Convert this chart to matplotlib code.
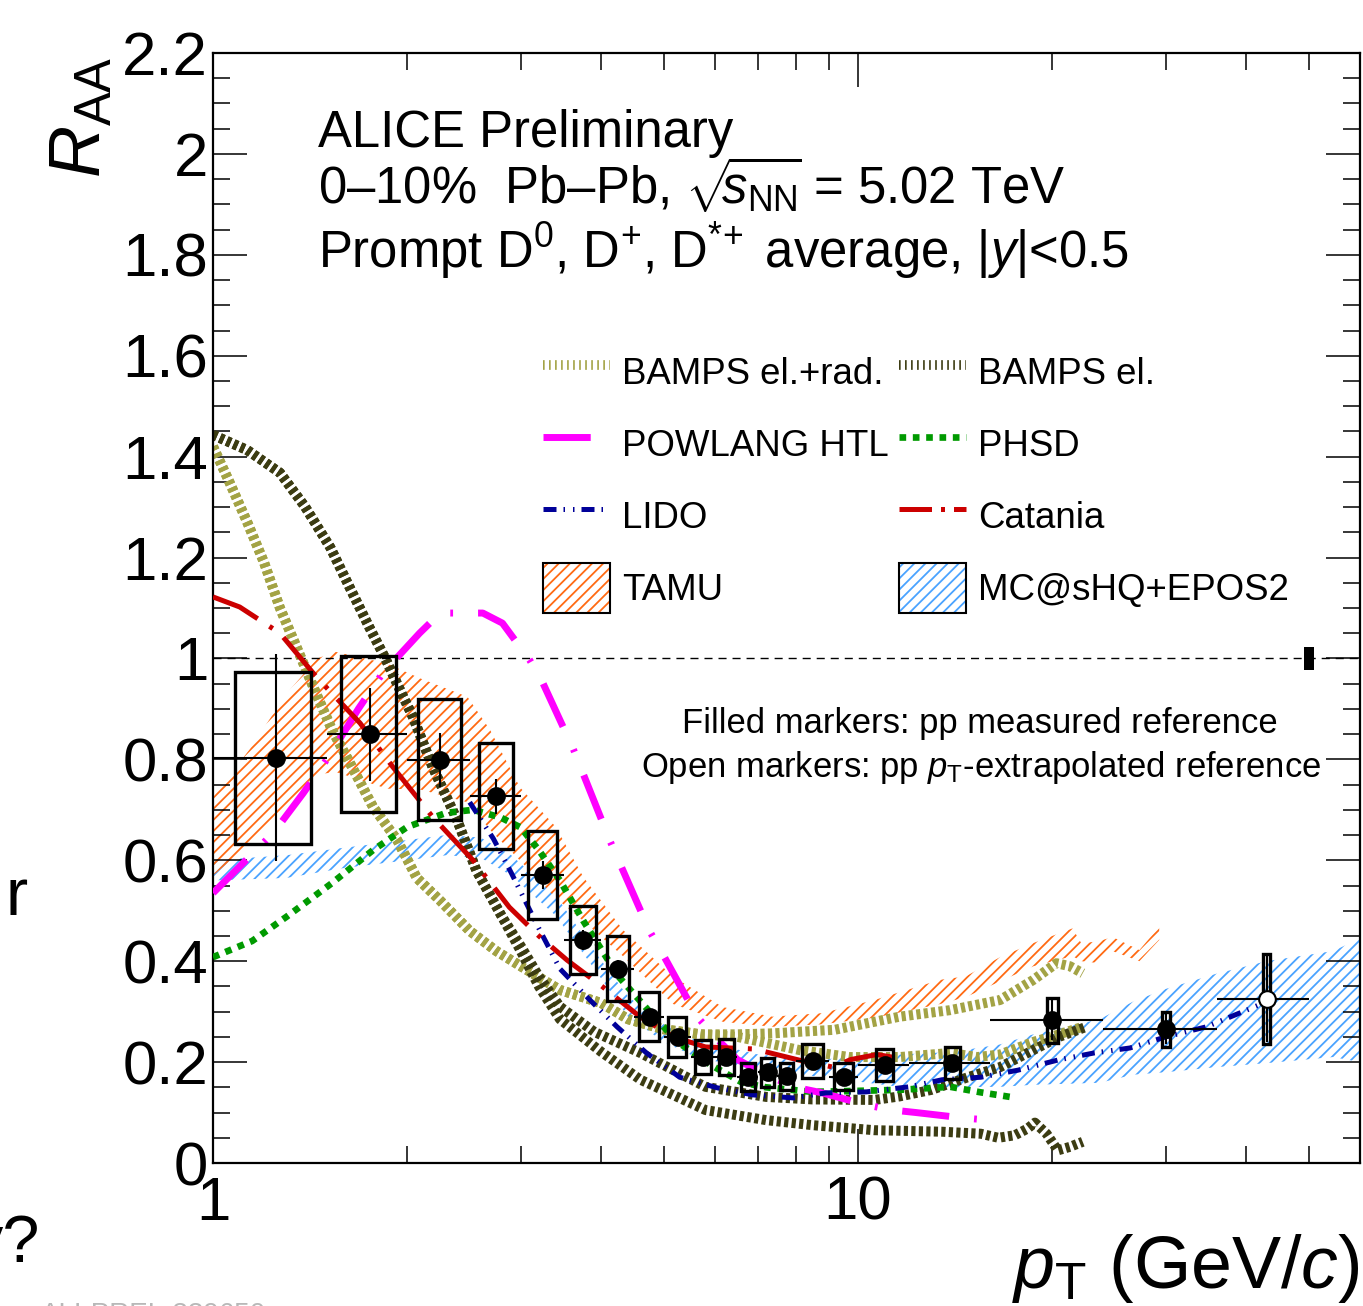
import numpy as np
import matplotlib
matplotlib.use("Agg")
import matplotlib.pyplot as plt
from matplotlib.lines import Line2D
from matplotlib.patches import Patch, Rectangle
from matplotlib.ticker import FixedLocator, FuncFormatter, MultipleLocator, NullFormatter

plt.rcParams['font.family'] = ['Liberation Sans', 'DejaVu Sans']
plt.rcParams['mathtext.fontset'] = 'custom'
plt.rcParams['mathtext.rm'] = 'Liberation Sans'
plt.rcParams['mathtext.it'] = 'Liberation Sans:italic'
plt.rcParams['mathtext.bf'] = 'Liberation Sans:bold'
plt.rcParams['hatch.linewidth'] = 1.3

# ---- prompt D average R_AA, 0-10% Pb-Pb 5.02 TeV ----
pt_lo = [1, 1.5, 2, 2.5, 3, 3.5, 4, 4.5, 5, 5.5, 6, 6.5, 7, 7.5, 8, 9, 10, 12, 16, 24, 36]
pt_hi = [1.5, 2, 2.5, 3, 3.5, 4, 4.5, 5, 5.5, 6, 6.5, 7, 7.5, 8, 9, 10, 12, 16, 24, 36, 50]
raa = [0.803, 0.850, 0.799, 0.727, 0.571, 0.442, 0.385, 0.290, 0.250, 0.210, 0.210,
       0.171, 0.180, 0.172, 0.202, 0.171, 0.194, 0.198, 0.283, 0.265, 0.325]
raa_stat = [0.205, 0.092, 0.053, 0.035, 0.027, 0.02, 0.018, 0.015, 0.014, 0.012, 0.012,
            0.011, 0.011, 0.011, 0.012, 0.011, 0.013, 0.014, 0.04, 0.03, 0.085]
raa_syst = [0.17, 0.155, 0.12, 0.105, 0.088, 0.068, 0.064, 0.048, 0.039, 0.033, 0.035,
            0.028, 0.029, 0.027, 0.033, 0.027, 0.031, 0.032, 0.045, 0.035, 0.09]
syst_dx = [0.17] * 14 + [0.32, 0.32, 0.33, 0.375, 0.4, 0.43, 0.53]
extrapolated_ref = [False] * 20 + [True]
norm_unc = 0.022

# ---- model curves ----
bamps_rad_up_pt = [1.0, 1.06, 1.13, 1.20, 1.27, 1.35, 1.43, 1.53, 1.63, 1.77, 1.93, 2.07, 2.25,
                   2.5, 2.75, 3.0, 3.45, 4.0, 4.4, 5.0, 5.7, 6.5, 7.4, 8.1, 9.2, 9.7, 11.6,
                   13.9, 16.6, 18.7, 20.3, 21.3, 22.3]
bamps_rad_up = [1.42, 1.35, 1.27, 1.19, 1.10, 1.02, 0.944, 0.858, 0.793, 0.706, 0.64, 0.565, 0.52,
                0.46, 0.42, 0.39, 0.343, 0.317, 0.285, 0.265, 0.255, 0.255, 0.257, 0.26, 0.264,
                0.27, 0.29, 0.303, 0.323, 0.363, 0.396, 0.39, 0.376]
bamps_rad_lo_pt = [1.0, 1.06, 1.13, 1.20, 1.27, 1.35, 1.43, 1.53, 1.63, 1.77, 1.93, 2.07, 2.25,
                   2.5, 2.75, 3.0, 3.45, 4.0, 4.4, 5.0, 5.7, 6.5, 7.4, 8.1, 9.7, 11.6, 13.9,
                   15.3, 16.6, 18.7, 20.5, 22.3]
bamps_rad_lo = [1.42, 1.35, 1.27, 1.19, 1.10, 1.02, 0.944, 0.858, 0.793, 0.706, 0.64, 0.565, 0.52,
                0.46, 0.42, 0.39, 0.343, 0.317, 0.285, 0.265, 0.255, 0.25, 0.235, 0.224, 0.21,
                0.21, 0.218, 0.21, 0.215, 0.24, 0.255, 0.27]

bamps_el_up_pt = [1.0, 1.13, 1.27, 1.39, 1.52, 1.63, 1.75, 1.85, 1.97, 2.04, 2.19, 2.39, 2.56,
                  2.8, 3.0, 3.2, 3.45, 3.9, 4.6, 5.8, 7.2, 8.5, 10.6, 11.6, 13.0, 14.8, 16.6,
                  18.7, 20.5, 22.6]
bamps_el_up = [1.443, 1.413, 1.368, 1.30, 1.22, 1.14, 1.06, 1.0, 0.925, 0.885, 0.785, 0.68, 0.58,
               0.49, 0.43, 0.37, 0.31, 0.26, 0.218, 0.151, 0.131, 0.126, 0.125, 0.132, 0.145,
               0.17, 0.19, 0.224, 0.25, 0.27]
bamps_el_lo_pt = [1.0, 1.13, 1.27, 1.39, 1.52, 1.63, 1.75, 1.85, 1.97, 2.04, 2.19, 2.39, 2.56,
                  2.8, 3.0, 3.2, 3.45, 4.0, 4.6, 5.8, 7.2, 8.5, 10.6, 13.5, 15.5, 16.5, 17.5,
                  18.3, 18.8, 19.6, 20.4, 21.3, 22.3]
bamps_el_lo = [1.443, 1.413, 1.368, 1.30, 1.22, 1.14, 1.06, 1.0, 0.925, 0.885, 0.785, 0.68, 0.58,
               0.49, 0.42, 0.35, 0.285, 0.22, 0.165, 0.105, 0.085, 0.075, 0.065, 0.062, 0.058,
               0.05, 0.055, 0.068, 0.08, 0.058, 0.025, 0.032, 0.042]

powlang_pt = [1.0, 1.24, 1.38, 1.52, 1.68, 1.83, 2.09, 2.25, 2.62, 2.81, 3.1, 3.25, 3.62, 4.12,
              4.75, 5.0, 5.63, 6.0, 6.5, 7.2, 8.0, 8.8, 10.3, 11.3, 12.3, 14.6, 16.0]
powlang = [0.535, 0.654, 0.733, 0.81, 0.90, 0.97, 1.05, 1.09, 1.09, 1.07, 0.996, 0.95, 0.82,
           0.64, 0.46, 0.41, 0.29, 0.25, 0.205, 0.175, 0.15, 0.139, 0.115, 0.105, 0.10, 0.089,
           0.085]

phsd_pt = [1.0, 1.15, 1.30, 1.53, 1.77, 2.0, 2.3, 2.53, 2.79, 3.0, 3.2, 3.45, 3.75, 4.25, 4.75,
           5.25, 5.9, 6.6, 7.2, 8.5, 10.0, 11.6, 13.9, 15.5, 17.2]
phsd = [0.408, 0.44, 0.488, 0.555, 0.62, 0.666, 0.694, 0.70, 0.685, 0.665, 0.62, 0.56, 0.48,
        0.37, 0.30, 0.24, 0.195, 0.16, 0.15, 0.141, 0.143, 0.145, 0.151, 0.14, 0.131]

lido_pt = [2.5, 2.72, 2.9, 3.2, 3.45, 3.84, 4.23, 4.7, 5.29, 6.05, 6.87, 7.93, 8.92, 10.3, 12.0,
           13.5, 15.5, 17.7, 20.4, 23.2, 26.4, 30.0, 34.7, 39.0, 44.0]
lido = [0.715, 0.643, 0.575, 0.465, 0.385, 0.323, 0.27, 0.218, 0.17, 0.149, 0.135, 0.129, 0.139,
        0.141, 0.151, 0.165, 0.17, 0.184, 0.204, 0.218, 0.228, 0.25, 0.27, 0.297, 0.325]

catania_pt = [1.0, 1.1, 1.27, 1.43, 1.5, 1.69, 1.9, 2.19, 2.53, 2.88, 3.2, 3.54, 4.02, 4.59, 5.17,
              5.8, 6.9, 8.1, 9.15, 9.74, 10.7, 11.9]
catania = [1.122, 1.102, 1.05, 0.971, 0.942, 0.872, 0.785, 0.686, 0.60, 0.507, 0.45, 0.402, 0.349,
           0.29, 0.25, 0.23, 0.226, 0.204, 0.19, 0.205, 0.215, 0.205]

tamu_pt = [1.0, 1.14, 1.3, 1.45, 1.55, 1.86, 2.1, 2.48, 2.69, 2.99, 3.4, 3.75, 4.32, 5.17, 6.17,
           7.37, 8.8, 10.6, 13.4, 14.7, 16.6, 18.7, 21.5, 22.2, 23.7, 24.8, 27.3, 29.3]
tamu_hi = [0.725, 0.82, 0.93, 1.0, 1.013, 0.99, 0.96, 0.924, 0.858, 0.745, 0.666, 0.567, 0.462,
           0.369, 0.309, 0.29, 0.297, 0.323, 0.363, 0.37, 0.408, 0.436, 0.465, 0.435, 0.44,
           0.448, 0.422, 0.468]
tamu_lo = [0.57, 0.63, 0.70, 0.77, 0.775, 0.742, 0.74, 0.715, 0.66, 0.60, 0.525, 0.48, 0.41,
           0.315, 0.28, 0.27, 0.275, 0.288, 0.315, 0.329, 0.36, 0.39, 0.41, 0.40, 0.396, 0.42,
           0.40, 0.442]

mcshq_pt = [1.0, 1.3, 1.6, 2.0, 2.3, 2.6, 2.9, 3.4, 3.9, 4.4, 5.0, 5.6, 7.0, 8.7, 11.6, 14.0, 16.6,
            18.7, 23.7, 26.7, 30.0, 35.9, 43.0, 54.5, 60.0]
mcshq_hi = [0.60, 0.61, 0.625, 0.64, 0.65, 0.645, 0.61, 0.53, 0.42, 0.33, 0.275, 0.245, 0.215,
            0.205, 0.215, 0.22, 0.235, 0.255, 0.285, 0.32, 0.345, 0.375, 0.40, 0.42, 0.445]
mcshq_lo = [0.56, 0.565, 0.585, 0.60, 0.61, 0.605, 0.57, 0.49, 0.385, 0.29, 0.24, 0.21, 0.184,
            0.171, 0.151, 0.15, 0.151, 0.155, 0.159, 0.175, 0.18, 0.19, 0.198, 0.21, 0.2]

c_rad = '#a3a345'
c_el = '#3c3c12'
c_powlang = '#ff00ff'
c_phsd = '#009a00'
c_lido = '#000099'
c_catania = '#cc0000'
c_tamu = '#ff6a13'
c_mcshq = '#4aa3ff'

ls_bamps = (0, (0.42, 0.33))
ls_powlang = (0, (6.8, 3.6, 0.4, 3.6))
ls_phsd = (0, (1, 1))
ls_lido = (0, (2.6, 1.4, 0.3, 1.6, 0.3, 1.4))
ls_catania = (0, (10, 2.8, 0.8, 2.8))

fig = plt.figure(figsize=(13.63, 13.06), dpi=100)
ax = fig.add_axes([213 / 1363, 143 / 1306, 1147 / 1363, 1110 / 1306])

# hatched model bands
ax.fill(np.r_[mcshq_pt, mcshq_pt[::-1]], np.r_[mcshq_hi, mcshq_lo[::-1]],
        facecolor='none', edgecolor=c_mcshq, lw=0, hatch='///', zorder=1)
ax.fill(np.r_[tamu_pt, tamu_pt[::-1]], np.r_[tamu_hi, tamu_lo[::-1]],
        facecolor='none', edgecolor=c_tamu, lw=0, hatch='///', zorder=1)

# model curves
ax.plot(bamps_rad_up_pt, bamps_rad_up, color=c_rad, lw=7.2, ls=ls_bamps, zorder=2)
ax.plot(bamps_rad_lo_pt, bamps_rad_lo, color=c_rad, lw=7.2, ls=ls_bamps, zorder=2)
ax.plot(bamps_el_up_pt, bamps_el_up, color=c_el, lw=7.2, ls=ls_bamps, zorder=2)
ax.plot(bamps_el_lo_pt, bamps_el_lo, color=c_el, lw=7.2, ls=ls_bamps, zorder=2)
ax.plot(phsd_pt, phsd, color=c_phsd, lw=4.8, ls=ls_phsd, zorder=3)
ax.plot(powlang_pt, powlang, color=c_powlang, lw=5, ls=ls_powlang, zorder=3)
ax.plot(lido_pt, lido, color=c_lido, lw=3.6, ls=ls_lido, zorder=3)
ax.plot(catania_pt, catania, color=c_catania, lw=3.6, ls=ls_catania, zorder=3)

ax.axhline(1, color='k', lw=1, ls=(0, (5.8, 4.3)), zorder=2)

# data: syst boxes, stat bars, markers
pt_lo_a = np.array(pt_lo)
pt_hi_a = np.array(pt_hi)
pt_c = 0.5 * (pt_lo_a + pt_hi_a)
raa_a = np.array(raa)
for x, y, dx, s in zip(pt_c, raa_a, syst_dx, raa_syst):
    ax.add_patch(Rectangle((x - dx, y - s), 2 * dx, 2 * s, fill=False,
                           ec='k', lw=2.4, zorder=4))
for x, xl, xh, y, e, op in zip(pt_c, pt_lo_a, pt_hi_a, raa_a, raa_stat, extrapolated_ref):
    ax.errorbar([x], [y], xerr=[[x - xl], [xh - x]], yerr=[e], fmt='o', color='k',
                mfc='white' if op else 'k', mec='k', mew=1.5, ms=12,
                elinewidth=1.5, capsize=0, zorder=5)

# global normalisation uncertainty
ax.add_patch(Rectangle((49.1, 1 - norm_unc), 1.8, 2 * norm_unc, fc='k', ec='k', lw=0, zorder=5))

ax.set_xscale('log')
ax.set_xlim(1, 60)
ax.set_ylim(0, 2.2)
ax.xaxis.set_major_locator(FixedLocator([1, 10]))
ax.xaxis.set_major_formatter(FuncFormatter(lambda v, p: '%g' % v))
ax.xaxis.set_minor_locator(FixedLocator([2, 3, 4, 5, 6, 7, 8, 9, 20, 30, 40, 50]))
ax.xaxis.set_minor_formatter(NullFormatter())
ax.yaxis.set_major_locator(MultipleLocator(0.2))
ax.yaxis.set_minor_locator(MultipleLocator(0.05))
ax.yaxis.set_major_formatter(FuncFormatter(lambda v, p: '%g' % round(v, 2)))
ax.tick_params(which='both', direction='in', top=True, right=True, width=1.1, labelsize=44.5)
ax.tick_params(which='major', length=24.5)
ax.tick_params(which='minor', length=12.5)
ax.tick_params(axis='y', pad=3.5)
ax.tick_params(axis='x', pad=9)
for s in ax.spines.values():
    s.set_linewidth(1.6)

# legend
def band_handle(color):
    return (Patch(facecolor='none', edgecolor=color, lw=0, hatch='///'),
            Patch(facecolor='none', edgecolor='black', lw=1.5))

handles = [
    Line2D([], [], color=c_rad, lw=7, ls=(0, (0.17, 0.45))),
    Line2D([], [], color=c_el, lw=7, ls=(0, (0.17, 0.45))),
    Line2D([], [], color=c_powlang, lw=5, ls=ls_powlang),
    Line2D([], [], color=c_phsd, lw=4.8, ls=ls_phsd),
    Line2D([], [], color=c_lido, lw=3.6, ls=ls_lido),
    Line2D([], [], color=c_catania, lw=3.6, ls=(0, (6.5, 1.8, 0.8, 1.8))),
    band_handle(c_tamu),
    band_handle(c_mcshq),
]
labels = ['BAMPS el.+rad.', 'BAMPS el.', 'POWLANG HTL', 'PHSD', 'LIDO', 'Catania', 'TAMU',
          'MC@sHQ+EPOS2']
# ncol=2 fills column-wise, so reorder to read row by row
order = [0, 2, 4, 6, 1, 3, 5, 7]
leg = ax.legend([handles[i] for i in order], [labels[i] for i in order], ncol=2,
                loc='upper left', bbox_to_anchor=(0.2877, 0.7351), frameon=False,
                fontsize=26.4, borderpad=0, borderaxespad=0, handlelength=1.83,
                handleheight=1.72, handletextpad=0.33, columnspacing=0.27,
                labelspacing=0.6)

# header
ax.text(0.0915, 0.9153, 'ALICE Preliminary', transform=ax.transAxes, fontsize=36.6,
        va='baseline', ha='left')
ax.text(0.0915, 0.8631,
        '0\u201310%  Pb\u2013Pb, $\\sqrt{\\!\\!s_{\\mathrm{NN}}\\!}$ = 5.02 TeV',
        transform=ax.transAxes, fontsize=36.6, va='baseline', ha='left')
ax.text(0.0915, 0.8063, 'Prompt D$^{0}$, D$^{+}$, D$^{*\\!+}$ average, |$y$|<0.5',
        transform=ax.transAxes, fontsize=36.6, va='baseline', ha='left')

ax.text(0.6687, 0.3874, 'Filled markers: pp measured reference', transform=ax.transAxes,
        fontsize=24.9, ha='center', va='baseline')
ax.text(0.6695, 0.3477, 'Open markers: pp $p_{\\mathrm{T}}$-extrapolated reference',
        transform=ax.transAxes, fontsize=24.9, ha='center', va='baseline')

# axis titles
fig.text(0.0845, 0.9564, '$R_{\\mathrm{AA}}$', rotation=90, ha='right', va='top', fontsize=52)
fig.text(0.9978, 0.0138, '$p_{\\mathrm{T}}$ (GeV/$c$)', ha='right', va='baseline', fontsize=53)

# text cut at the page edge
fig.text(0.004, 0.2994, 'r', ha='left', va='baseline', fontsize=48)
fig.text(0.0293, 0.0337, 'y?', ha='right', va='baseline', fontsize=48)
fig.text(0.03, 0.003, 'ALI-PREL-339650', ha='left', va='top', fontsize=20, color='#b8b8b8')

fig.savefig('out.png', dpi=100)
